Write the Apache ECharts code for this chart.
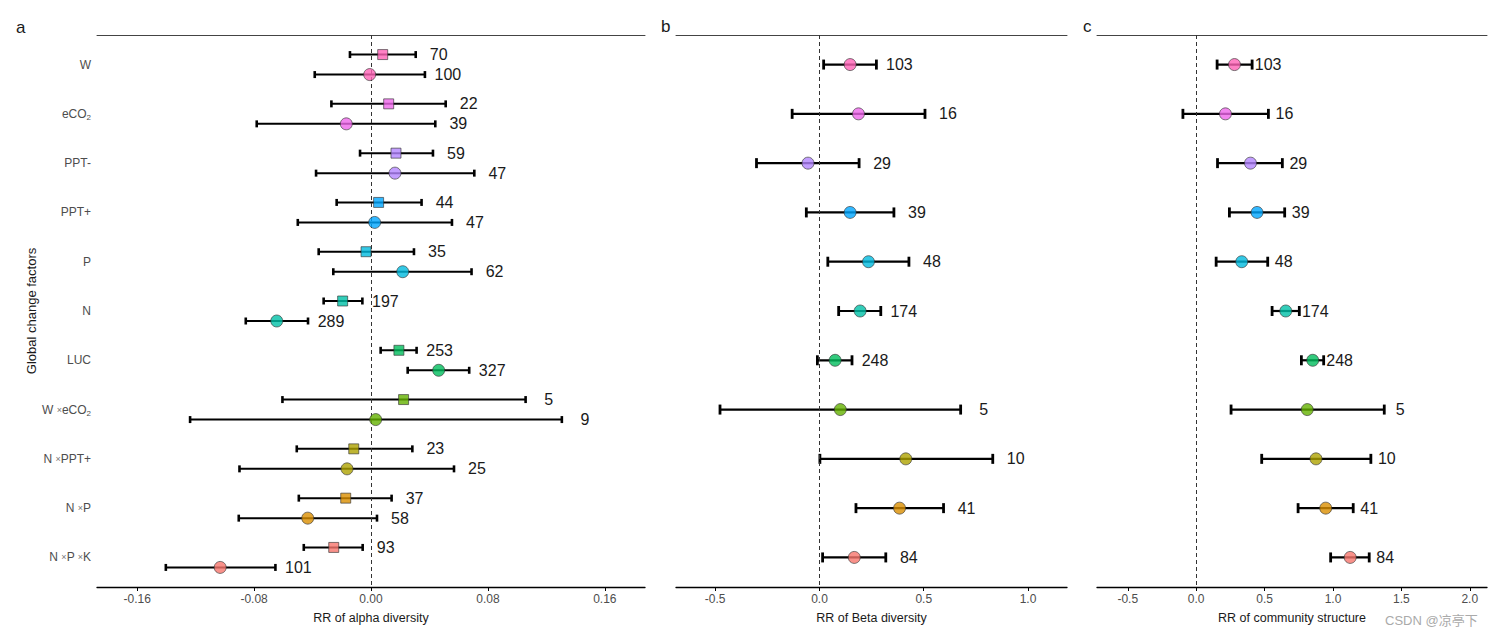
<!DOCTYPE html>
<html><head><meta charset="utf-8">
<script src="https://cdn.jsdelivr.net/npm/echarts@6/dist/echarts.min.js"></script>
<style>html,body{margin:0;padding:0;background:#fff}#c{width:1500px;height:637px}</style>
</head><body><div id="c"></div>
<script>
// ---- data ----
const factors = ['W','eCO2','PPT-','PPT+','P','N','LUC','W×eCO2','N×PPT+','N×P','N×P×K'];
const alphaSqMean = [0.008,0.0121,0.0171,0.0052,-0.0034,-0.0194,0.0191,0.0223,-0.0118,-0.0173,-0.0255];
const alphaSqLow  = [-0.0144,-0.0271,-0.0075,-0.0235,-0.0358,-0.0324,0.0066,-0.0606,-0.0508,-0.0494,-0.046];
const alphaSqHigh = [0.0306,0.0511,0.0424,0.0346,0.0294,-0.0059,0.0312,0.1058,0.0283,0.0141,-0.0057];
const alphaSqN    = [70,22,59,44,35,197,253,5,23,37,93];
const alphaCiMean = [-0.0009,-0.0169,0.0164,0.0025,0.0217,-0.0645,0.0463,0.0032,-0.0164,-0.0433,-0.1032];
const alphaCiLow  = [-0.0385,-0.0782,-0.0376,-0.0501,-0.0258,-0.0857,0.0251,-0.1238,-0.090,-0.0905,-0.1404];
const alphaCiHigh = [0.0369,0.044,0.0707,0.0554,0.0688,-0.0431,0.0672,0.1306,0.0568,0.0041,-0.0654];
const alphaCiN    = [100,39,47,47,62,289,327,9,25,58,101];
const betaMean = [0.147,0.187,-0.055,0.147,0.235,0.195,0.075,0.1,0.414,0.384,0.167];
const betaLow  = [0.02,-0.131,-0.302,-0.063,0.04,0.092,-0.01,-0.477,0.002,0.175,0.015];
const betaHigh = [0.273,0.506,0.19,0.357,0.429,0.294,0.156,0.677,0.831,0.595,0.318];
const betaN    = [103,16,29,39,48,174,248,5,10,41,84];
const commMean = [0.28,0.214,0.397,0.445,0.333,0.655,0.852,0.812,0.876,0.947,1.126];
const commLow  = [0.153,-0.097,0.156,0.243,0.146,0.555,0.769,0.255,0.479,0.745,0.983];
const commHigh = [0.409,0.528,0.63,0.647,0.523,0.754,0.932,1.375,1.277,1.148,1.265];
const commN    = [103,16,29,39,48,174,248,5,10,41,84];
const ticksA = [-0.16,-0.08,0,0.08,0.16];
const ticksB = [-0.5,0,0.5,1.0];
const ticksC = [-0.5,0,0.5,1.0,1.5,2.0];
const palette = ['#FF63B6','#EF67EB','#B385FF','#00A6FF','#00BADE','#00C1A7','#00BD5C','#64B200','#AEA200','#DB8E00','#F8766D'];

// ---- helpers ----
const FONT = 'Liberation Sans, Arial, sans-serif';
const pos = factors.map((f,i)=>i+1);
function richLabel(s){
  return s.replace(/×/g,' {x|×}').replace(/eCO2/g,'{t|eCO}{s|2}');
}
function errRender(offset, gap, capH, lw){
  return function(params, api){
    const lo = api.coord([api.value(0), api.value(2)]);
    const hi = api.coord([api.value(1), api.value(2)]);
    const y = lo[1] + offset;
    const st = {stroke:'#000', lineWidth:lw};
    const cs = {stroke:'#000', lineWidth:lw+0.6};
    return {type:'group', children:[
      {type:'line', shape:{x1:lo[0],y1:y,x2:hi[0],y2:y}, style:st},
      {type:'line', shape:{x1:lo[0],y1:y-capH,x2:lo[0],y2:y+capH}, style:cs},
      {type:'line', shape:{x1:hi[0],y1:y-capH,x2:hi[0],y2:y+capH}, style:cs},
      {type:'text', style:{text:String(api.value(3)), x:hi[0]+gap, y:y, align:'center', verticalAlign:'middle',
        fontSize:16, fill:'#1a1a1a', fontFamily:FONT}}
    ]};
  };
}
function errSeries(idx, low, high, n, offset, gap, capH, lw, withZero){
  const s = {type:'custom', xAxisIndex:idx*2, yAxisIndex:idx, z:2,
    renderItem: errRender(offset, gap, capH, lw),
    encode:{x:[0,1], y:2},
    data: factors.map((f,i)=>[low[i], high[i], pos[i], n[i]])};
  if (withZero) s.markLine = {silent:true, symbol:'none', label:{show:false},
    lineStyle:{type:[4,3], color:'#333', width:1}, data:[{xAxis:0}]};
  return s;
}
function ptSeries(idx, mean, symbol, size, offset){
  return {type:'scatter', xAxisIndex:idx*2, yAxisIndex:idx, z:5, symbol:symbol, symbolSize:size,
    symbolOffset:[0, offset],
    data: factors.map((f,i)=>({value:[mean[i], pos[i]], itemStyle:{color:palette[i], borderColor:'#333', borderWidth:0.8}}))};
}
const grids = [
  {left:97, right:855, top:35, bottom:50},
  {left:676, right:433, top:35, bottom:50},
  {left:1097, right:13, top:35, bottom:50}
];
const ranges = [[-0.1875,0.1875],[-0.688,1.187],[-0.725,2.126]];
const tickSets = [ticksA, ticksB, ticksC];
const names = ['RR of alpha diversity','RR of Beta diversity','RR of community structure'];
const fmts = [v=>v.toFixed(2), v=>v.toFixed(1), v=>v.toFixed(1)];
const xAxes = [];
grids.forEach((g,i)=>{
  xAxes.push({type:'value', gridIndex:i, position:'bottom', min:ranges[i][0], max:ranges[i][1],
    splitLine:{show:false},
    axisLine:{show:true, onZero:false, lineStyle:{color:'#000', width:1.3}},
    axisTick:{show:true, length:4, lineStyle:{color:'#000'}, customValues:tickSets[i]},
    axisLabel:{customValues:tickSets[i], formatter:fmts[i], fontSize:12, color:'#4d4d4d', margin:6, fontFamily:FONT},
    name:names[i], nameLocation:'middle', nameGap:24,
    nameTextStyle:{fontSize:12.5, color:'#1a1a1a', fontFamily:FONT}});
  xAxes.push({type:'value', gridIndex:i, position:'top', min:ranges[i][0], max:ranges[i][1],
    splitLine:{show:false}, axisTick:{show:false}, axisLabel:{show:false},
    axisLine:{show:true, onZero:false, lineStyle:{color:'#444', width:1}}});
});
const yAxes = grids.map((g,i)=>({type:'value', gridIndex:i, inverse:true, min:0.4, max:11.6,
  splitLine:{show:false}, axisLine:{show:false}, axisTick:{show:false},
  axisLabel: i===0 ? {customValues:pos, formatter:v=>richLabel(factors[v-1]), fontSize:12, color:'#4d4d4d', margin:6,
    fontFamily:FONT,
    rich:{t:{fontSize:12, color:'#4d4d4d', fontFamily:FONT},
          s:{fontSize:8, color:'#4d4d4d', fontFamily:FONT, padding:[7,0,0,0]},
          x:{fontSize:9, color:'#777', fontFamily:FONT}}} : {show:false},
  name: i===0 ? 'Global change factors' : '', nameLocation:'middle', nameRotate:90, nameGap:56,
  nameTextStyle:{fontSize:13, color:'#1a1a1a', fontFamily:FONT}}));

const chart = echarts.init(document.getElementById('c'), null, {renderer:'svg'});
chart.setOption({
  backgroundColor:'#fff',
  animation:false,
  grid: grids,
  xAxis: xAxes,
  yAxis: yAxes,
  series: [
    errSeries(0, alphaSqLow, alphaSqHigh, alphaSqN, -10, 23, 3.5, 2, true),
    errSeries(0, alphaCiLow, alphaCiHigh, alphaCiN, 10, 23, 3.5, 2, false),
    ptSeries(0, alphaSqMean, 'rect', 10, -10),
    ptSeries(0, alphaCiMean, 'circle', 12, 10),
    errSeries(1, betaLow, betaHigh, betaN, 0, 23, 5, 2.2, true),
    ptSeries(1, betaMean, 'circle', 12, 0),
    errSeries(2, commLow, commHigh, commN, 0, 16, 5, 2.2, true),
    ptSeries(2, commMean, 'circle', 12, 0)
  ],
  graphic: [
    {type:'text', left:16, top:19, style:{text:'a', fontSize:17, fill:'#1a1a1a', fontFamily:FONT}},
    {type:'text', left:661, top:18, style:{text:'b', fontSize:17, fill:'#1a1a1a', fontFamily:FONT}},
    {type:'text', left:1083, top:18, style:{text:'c', fontSize:17, fill:'#1a1a1a', fontFamily:FONT}},
    {type:'text', left:1385, top:614, style:{text:'CSDN @凉亭下', fontSize:13, fill:'#aaaaaa', fontFamily:'Liberation Sans, Noto Sans CJK SC, sans-serif'}}
  ]
});
</script></body></html>
